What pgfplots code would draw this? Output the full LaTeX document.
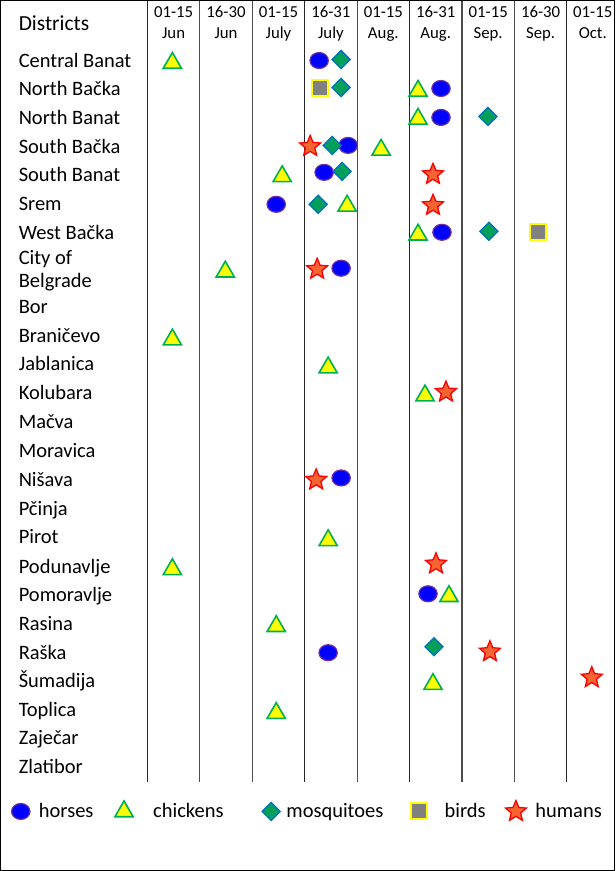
\documentclass[border=0pt]{standalone}
\usepackage{fontspec}
\setmainfont{Carlito}
\usepackage{pgfplots}
\pgfplotsset{compat=1.18}
\usetikzlibrary{plotmarks}
\definecolor{horsefill}{RGB}{0,0,255}
\definecolor{horsedraw}{RGB}{112,48,160}
\definecolor{chickfill}{RGB}{255,255,0}
\definecolor{chickdraw}{RGB}{0,176,80}
\definecolor{mosqfill}{RGB}{0,160,90}
\definecolor{mosqdraw}{RGB}{0,112,192}
\definecolor{birdfill}{RGB}{128,128,128}
\definecolor{birddraw}{RGB}{255,255,0}
\definecolor{humfill}{RGB}{245,100,50}
\definecolor{humdraw}{RGB}{255,0,0}
\pgfdeclareplotmark{fstar}{%
  \pgfpathmoveto{\pgfpointpolar{90}{\pgfplotmarksize}}%
  \pgfpathlineto{\pgfpointpolar{126}{0.45*\pgfplotmarksize}}%
  \pgfpathlineto{\pgfpointpolar{162}{\pgfplotmarksize}}%
  \pgfpathlineto{\pgfpointpolar{198}{0.45*\pgfplotmarksize}}%
  \pgfpathlineto{\pgfpointpolar{234}{\pgfplotmarksize}}%
  \pgfpathlineto{\pgfpointpolar{270}{0.45*\pgfplotmarksize}}%
  \pgfpathlineto{\pgfpointpolar{306}{\pgfplotmarksize}}%
  \pgfpathlineto{\pgfpointpolar{342}{0.45*\pgfplotmarksize}}%
  \pgfpathlineto{\pgfpointpolar{18}{\pgfplotmarksize}}%
  \pgfpathlineto{\pgfpointpolar{54}{0.45*\pgfplotmarksize}}%
  \pgfpathclose
  \pgfusepathqfillstroke}
\newcommand{\nm}{\fontsize{20.5}{24}\selectfont}
\newcommand{\hd}{\fontsize{16.8}{18}\selectfont}
\begin{document}
\begin{tikzpicture}
\begin{axis}[
  width=615pt, height=871pt, scale only axis,
  xmin=0, xmax=615, ymin=0, ymax=871, y dir=reverse,
  xtick=\empty, ytick=\empty,
  axis line style={black, line width=1.2pt},
  clip=false,
  legend columns=5, legend cell align=left,
  legend style={at={(axis cs:10,811)}, anchor=west, draw=none, fill=none,
    inner sep=0pt, outer sep=0pt, nodes={inner sep=0pt},
    /tikz/column sep=0pt, font=\nm},
  legend image code/.code={\draw[#1] plot coordinates {(0pt,0pt)}; \path (-10pt,0pt) (10pt,0pt);},
]
% column separators
\draw[black!85, line width=1.2pt] (axis cs:147,0) -- (axis cs:147,782);
\draw[black!70, line width=1.2pt] (axis cs:199.5,0) -- (axis cs:199.5,782);
\draw[black!70, line width=1.2pt] (axis cs:252,0) -- (axis cs:252,782);
\draw[black!85, line width=1.2pt] (axis cs:304.5,0) -- (axis cs:304.5,782);
\draw[black!70, line width=1.2pt] (axis cs:357,0) -- (axis cs:357,782);
\draw[black!85, line width=1.2pt] (axis cs:409.5,0) -- (axis cs:409.5,782);
\draw[black!70, line width=1.2pt] (axis cs:462,0) -- (axis cs:462,782);
\draw[black!70, line width=1.2pt] (axis cs:514.5,0) -- (axis cs:514.5,782);
\draw[black!85, line width=1.2pt] (axis cs:567,0) -- (axis cs:567,782);

% header
\node[anchor=base west, inner sep=0pt, font=\fontsize{21.5}{24}\selectfont] at (axis cs:18,30) {Districts};
\node[anchor=base, inner sep=0pt, font=\hd] at (axis cs:173.25,16.7) {01-15};
\node[anchor=base, inner sep=0pt, font=\hd] at (axis cs:173.25,38) {Jun};
\node[anchor=base, inner sep=0pt, font=\hd] at (axis cs:225.75,16.7) {16-30};
\node[anchor=base, inner sep=0pt, font=\hd] at (axis cs:225.75,38) {Jun};
\node[anchor=base, inner sep=0pt, font=\hd] at (axis cs:278.25,16.7) {01-15};
\node[anchor=base, inner sep=0pt, font=\hd] at (axis cs:278.25,38) {July};
\node[anchor=base, inner sep=0pt, font=\hd] at (axis cs:330.75,16.7) {16-31};
\node[anchor=base, inner sep=0pt, font=\hd] at (axis cs:330.75,38) {July};
\node[anchor=base, inner sep=0pt, font=\hd] at (axis cs:383.25,16.7) {01-15};
\node[anchor=base, inner sep=0pt, font=\hd] at (axis cs:383.25,38) {Aug.};
\node[anchor=base, inner sep=0pt, font=\hd] at (axis cs:435.75,16.7) {16-31};
\node[anchor=base, inner sep=0pt, font=\hd] at (axis cs:435.75,38) {Aug.};
\node[anchor=base, inner sep=0pt, font=\hd] at (axis cs:488.25,16.7) {01-15};
\node[anchor=base, inner sep=0pt, font=\hd] at (axis cs:488.25,38) {Sep.};
\node[anchor=base, inner sep=0pt, font=\hd] at (axis cs:540.75,16.7) {16-30};
\node[anchor=base, inner sep=0pt, font=\hd] at (axis cs:540.75,38) {Sep.};
\node[anchor=base, inner sep=0pt, font=\hd] at (axis cs:593,16.7) {01-15};
\node[anchor=base, inner sep=0pt, font=\hd] at (axis cs:593,38) {Oct.};

% district names
\node[anchor=base west, inner sep=0pt, font=\nm] at (axis cs:18,67) {Central Banat};
\node[anchor=base west, inner sep=0pt, font=\nm] at (axis cs:18,95.3) {North Bačka};
\node[anchor=base west, inner sep=0pt, font=\nm] at (axis cs:18,124) {North Banat};
\node[anchor=base west, inner sep=0pt, font=\nm] at (axis cs:18,153) {South Bačka};
\node[anchor=base west, inner sep=0pt, font=\nm] at (axis cs:18,181.3) {South Banat};
\node[anchor=base west, inner sep=0pt, font=\nm] at (axis cs:18,210.3) {Srem};
\node[anchor=base west, inner sep=0pt, font=\nm] at (axis cs:18,239.3) {West Bačka};
\node[anchor=base west, inner sep=0pt, font=\nm] at (axis cs:18,264.3) {City of};
\node[anchor=base west, inner sep=0pt, font=\nm] at (axis cs:18,287.3) {Belgrade};
\node[anchor=base west, inner sep=0pt, font=\nm] at (axis cs:18,313.3) {Bor};
\node[anchor=base west, inner sep=0pt, font=\nm] at (axis cs:18,342.3) {Braničevo};
\node[anchor=base west, inner sep=0pt, font=\nm] at (axis cs:18,370.3) {Jablanica};
\node[anchor=base west, inner sep=0pt, font=\nm] at (axis cs:18,399.3) {Kolubara};
\node[anchor=base west, inner sep=0pt, font=\nm] at (axis cs:18,428.3) {Mačva};
\node[anchor=base west, inner sep=0pt, font=\nm] at (axis cs:18,457.3) {Moravica};
\node[anchor=base west, inner sep=0pt, font=\nm] at (axis cs:18,486.3) {Nišava};
\node[anchor=base west, inner sep=0pt, font=\nm] at (axis cs:18,515.3) {Pčinja};
\node[anchor=base west, inner sep=0pt, font=\nm] at (axis cs:18,543.3) {Pirot};
\node[anchor=base west, inner sep=0pt, font=\nm] at (axis cs:18,573.3) {Podunavlje};
\node[anchor=base west, inner sep=0pt, font=\nm] at (axis cs:18,601.3) {Pomoravlje};
\node[anchor=base west, inner sep=0pt, font=\nm] at (axis cs:18,630.3) {Rasina};
\node[anchor=base west, inner sep=0pt, font=\nm] at (axis cs:18,659.3) {Raška};
\node[anchor=base west, inner sep=0pt, font=\nm] at (axis cs:18,688.3) {Šumadija};
\node[anchor=base west, inner sep=0pt, font=\nm] at (axis cs:18,717.3) {Toplica};
\node[anchor=base west, inner sep=0pt, font=\nm] at (axis cs:18,745.3) {Zaječar};
\node[anchor=base west, inner sep=0pt, font=\nm] at (axis cs:18,774.3) {Zlatibor};

% horses
\addplot[only marks, mark=*, mark size=9.2pt,
  mark options={yscale=0.87, fill=horsefill, draw=horsedraw, line width=1.2pt}]
  table {
x y
319 60
441 88
441 117
348 145
324 172
276 204
442 232
341 268
341 478
428 594
328 653
};
\addlegendentry{\makebox[83pt][l]{\hspace{8pt}horses}}
% chickens
\addplot[only marks, mark=triangle*, mark size=10.5pt,
  mark options={fill=chickfill, draw=chickdraw, line width=1.6pt}]
  table {
x y
172 62.5
418 90.5
418 118.5
381 149.5
282 176
347 205.5
418 234.5
225 271.5
172 339.5
328 367.5
425 395.5
328 540.5
172 569.5
449 596.5
276 626.5
433 684.5
276 713.5
};
\addlegendentry{\makebox[127pt][l]{\hspace{19pt}chickens}}
% mosquitoes
\addplot[only marks, mark=square*, mark size=6.4pt,
  mark options={rotate=45, fill=mosqfill, draw=mosqdraw, line width=1.3pt}]
  table {
x y
341 59
341 87
488 116
332 145
342 171
318 204
489 231
434 647
};
\addlegendentry{\makebox[128pt][l]{\hspace{5pt}mosquitoes}}
% birds
\addplot[only marks, mark=square*, mark size=8pt,
  mark options={fill=birdfill, draw=birddraw, line width=2pt}]
  table {
x y
320 88
538 232
};
\addlegendentry{\makebox[76pt][l]{\hspace{15pt}birds}}
% humans
\addplot[only marks, mark=fstar, mark size=11pt,
  mark options={fill=humfill, draw=humdraw, line width=1.3pt}]
  table {
x y
310 146
433 174
433 205
317 269
446 392
316 480
436 564
490 652
592 678
};
\addlegendentry{\hspace{9pt}humans}
\end{axis}
\end{tikzpicture}
\end{document}
